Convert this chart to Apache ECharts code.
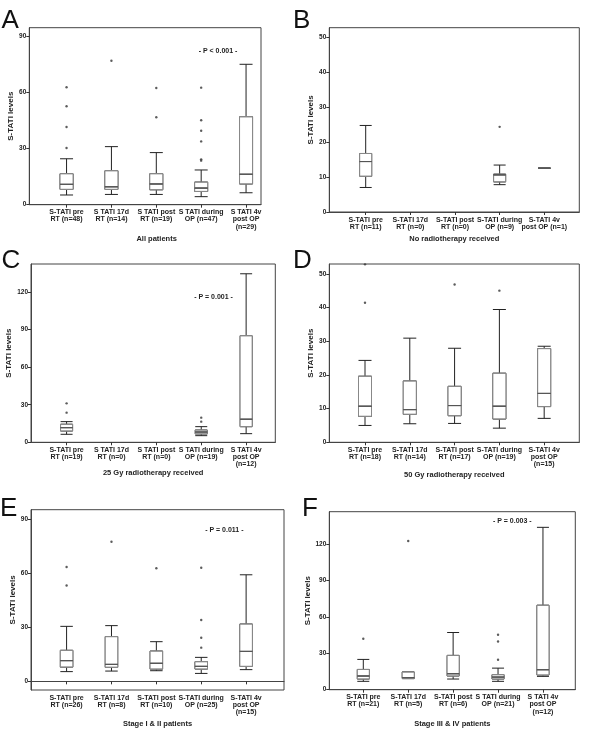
<!DOCTYPE html>
<html><head><meta charset="utf-8">
<script src="https://cdn.jsdelivr.net/npm/echarts@6/dist/echarts.min.js"></script>
<style>html,body{margin:0;padding:0;background:#fff}#c{width:600px;height:746px}</style>
</head><body><div id="c"></div>
<script>
// ---------- DATA ----------
const labelsA = ['S-TATI pre\nRT (n=48)', 'S TATI 17d\nRT (n=14)', 'S TATI post\nRT (n=19)', 'S TATI during\nOP (n=47)', 'S TATI 4v\npost OP\n(n=29)'];
const boxA = [[5.2, 8.2, 10.9, 16.6, 24.6], [5.5, 8.2, 9.6, 18.2, 31.1], [5.5, 8.0, 11.1, 16.6, 27.9], [4.3, 7.1, 8.9, 12.1, 18.6], [6.4, 11.1, 16.3, 47.1, 75.2]];
const outA = [[1, 62.9], [1, 52.7], [1, 41.6], [1, 30.4], [2, 77.1], [3, 62.5], [3, 46.8], [4, 62.7], [4, 45.2], [4, 39.6], [4, 33.9], [4, 24.3], [4, 23.6]];
const ticksA = [0, 30, 60, 90];

const labelsB = ['S-TATI pre\nRT (n=11)', 'S-TATI 17d\nRT (n=0)', 'S-TATI post\nRT (n=0)', 'S-TATI during\nOP (n=9)', 'S-TATI 4v\npost OP (n=1)'];
const boxB = [[7.0, 10.2, 14.4, 16.7, 24.7], null, null, [7.8, 8.6, 10.6, 10.8, 13.4], [12.5, 12.5, 12.5, 12.5, 12.5]];
const outB = [[4, 24.3]];
const ticksB = [0, 10, 20, 30, 40, 50];

const labelsC = ['S-TATI pre\nRT (n=19)', 'S TATI 17d\nRT (n=0)', 'S TATI post\nRT (n=0)', 'S TATI during\nOP (n=19)', 'S TATI 4v\npost OP\n(n=12)'];
const boxC = [[6.4, 9.0, 11.7, 14.4, 16.5], null, null, [5.3, 6.7, 8.2, 9.8, 12.5], [6.9, 12.5, 18.4, 85.1, 134.6]];
const outC = [[1, 31.1], [1, 23.7], [4, 16.5], [4, 19.7]];
const ticksC = [0, 30, 60, 90, 120];

const labelsD = ['S-TATI pre\nRT (n=18)', 'S-TATI 17d\nRT (n=14)', 'S-TATI post\nRT (n=17)', 'S-TATI during\nOP (n=19)', 'S-TATI 4v\npost OP\n(n=15)'];
const boxD = [[5.0, 7.7, 10.7, 19.6, 24.3], [5.5, 8.3, 9.7, 18.2, 30.9], [5.6, 7.9, 10.9, 16.6, 27.9], [4.2, 6.9, 10.7, 20.5, 39.4], [7.1, 10.6, 14.5, 27.8, 28.5]];
const outD = [[1, 41.4], [1, 52.8], [3, 46.8], [4, 45.0]];
const ticksD = [0, 10, 20, 30, 40, 50];

const labelsE = ['S-TATI pre\nRT (n=26)', 'S-TATI 17d\nRT (n=8)', 'S-TATI post\nRT (n=10)', 'S-TATI during\nOP (n=25)', 'S-TATI 4v\npost OP\n(n=15)'];
const boxE = [[5.4, 7.9, 11.5, 17.2, 30.5], [5.7, 7.8, 9.4, 24.8, 30.9], [5.9, 6.8, 10.0, 16.8, 22.0], [4.4, 6.8, 8.3, 10.9, 13.3], [6.5, 8.3, 16.6, 31.8, 59.1]];
const outE = [[1, 63.4], [1, 53.2], [2, 77.4], [3, 62.7], [4, 63.0], [4, 34.0], [4, 24.2], [4, 18.7]];
const ticksE = [0, 30, 60, 90];

const labelsF = ['S-TATI pre\nRT (n=21)', 'S-TATI 17d\nRT (n=5)', 'S-TATI post\nRT (n=6)', 'S TATI during\nOP (n=21)', 'S TATI 4v\npost OP\n(n=12)'];
const boxF = [[6.9, 8.8, 11.3, 16.7, 25.0], [9.1, 9.3, 10.0, 14.6, 14.6], [8.8, 11.3, 13.2, 28.3, 47.2], [6.9, 8.8, 10.4, 12.4, 17.8], [11.0, 12.1, 16.5, 69.7, 134.0]];
const outF = [[1, 42.0], [2, 122.7], [4, 45.3], [4, 39.8], [4, 24.7]];
const ticksF = [0, 30, 60, 90, 120];

const yTitle = 'S-TATI levels';
const xTitles = ['All patients', 'No radiotherapy received', '25 Gy radiotherapy received', '50 Gy radiotherapy received', 'Stage I & II patients', 'Stage III & IV patients'];
const panelLetters = ['A', 'B', 'C', 'D', 'E', 'F'];
const pTexts = ['- P < 0.001 -', null, '- P = 0.001 -', null, '- P = 0.011 -', '- P = 0.003 -'];

// ---------- LAYOUT ----------
const FONT = 'Liberation Sans, Arial, sans-serif';
const layout = [
  {left: 29.3, top: 27.7, width: 231.7, height: 177, xmin: 0.17, xmax: 5.333, ymin: 0, ymax: 94.8, bw: 13, yGap: 10, xGap: 30, xPad: 23, letter: [1.5, 21], p: [218, 50.7]},
  {left: 329.3, top: 27.7, width: 250, height: 184.3, xmin: 0.185, xmax: 5.784, ymin: 0, ymax: 52.6, bw: 12, yGap: 12, xGap: 23, xPad: 0, letter: [293, 21], p: null},
  {left: 31, top: 264, width: 244.3, height: 178.3, xmin: 0.207, xmax: 5.65, ymin: 0, ymax: 142.4, bw: 12, yGap: 12.5, xGap: 19.5, xPad: 0, letter: [1.5, 261], p: [213.5, 296.7]},
  {left: 329.3, top: 264, width: 250, height: 178.3, xmin: 0.203, xmax: 5.784, ymin: 0, ymax: 52.9, bw: 13, yGap: 12, xGap: 28.5, xPad: 0, letter: [293, 261], p: null},
  {left: 31, top: 509.7, width: 253, height: 180.3, xmin: 0.207, xmax: 5.844, ymin: -4.8, ymax: 95.2, bw: 12.5, yGap: 11.5, xGap: 30, xPad: 0, letter: [0, 508.5], p: [224.3, 530.3]},
  {left: 329.3, top: 511.7, width: 246, height: 178, xmin: 0.243, xmax: 5.72, ymin: 0, ymax: 146.9, bw: 12, yGap: 15, xGap: 30, xPad: 0, letter: [302, 509], p: [512.3, 520.7]}
];
const allLabels = [labelsA, labelsB, labelsC, labelsD, labelsE, labelsF];
const allBoxes = [boxA, boxB, boxC, boxD, boxE, boxF];
const allOut = [outA, outB, outC, outD, outE, outF];
const allTicks = [ticksA, ticksB, ticksC, ticksD, ticksE, ticksF];

const grid = [], xAxis = [], yAxis = [], series = [], graphic = [];
const catVals = [1, 2, 3, 4, 5];
const oddVals = [1, 3, 5], evenVals = [2, 4];
const catLabelStyle = {fontFamily: FONT, fontWeight: 'bold', fontSize: 7, lineHeight: 7.2, color: '#222', margin: 4, hideOverlap: false, showMinLabel: true, showMaxLabel: true};
layout.forEach((L, i) => {
  grid.push({left: L.left, top: L.top, width: L.width, height: L.height, show: true, borderColor: '#444', borderWidth: 1, backgroundColor: 'transparent', containLabel: false});
  const labs = allLabels[i];
  const fmt = v => labs[Math.round(v) - 1] || '';
  // main x axis: line, ticks, odd labels, title
  xAxis.push({
    type: 'value', gridIndex: i, min: L.xmin, max: L.xmax,
    axisLine: {show: true, lineStyle: {color: '#444', width: 1}},
    axisTick: {show: true, length: 3, customValues: catVals, lineStyle: {color: '#333'}},
    splitLine: {show: false},
    axisLabel: Object.assign({show: true, customValues: oddVals, formatter: fmt}, catLabelStyle),
    name: xTitles[i], nameLocation: 'middle', nameGap: L.xGap,
    nameTextStyle: {fontFamily: FONT, fontWeight: 'bold', fontSize: 7.5, color: '#222', padding: [0, 0, 0, L.xPad]}
  });
  // companion x axis: even labels only
  xAxis.push({
    type: 'value', gridIndex: i, min: L.xmin, max: L.xmax, position: 'bottom',
    axisLine: {show: false}, axisTick: {show: false}, splitLine: {show: false},
    axisLabel: Object.assign({show: true, customValues: evenVals, formatter: fmt}, catLabelStyle)
  });
  // third hidden x axis (for median overlay)
  xAxis.push({
    type: 'value', gridIndex: i, min: L.xmin, max: L.xmax, show: false,
    axisLine: {show: false}, axisTick: {show: false}, splitLine: {show: false}, axisLabel: {show: false}
  });
  yAxis.push({
    type: 'value', gridIndex: i, min: L.ymin, max: L.ymax,
    axisLine: {show: true, lineStyle: {color: '#444', width: 1}},
    axisTick: {show: true, length: 3, customValues: allTicks[i], lineStyle: {color: '#333'}},
    splitLine: {show: false},
    axisLabel: {show: true, customValues: allTicks[i], fontFamily: FONT, fontWeight: 'bold', fontSize: 6.5, color: '#222', margin: 3, showMinLabel: true, showMaxLabel: true},
    name: yTitle, nameLocation: 'middle', nameGap: L.yGap, nameRotate: 90,
    nameTextStyle: {fontFamily: FONT, fontWeight: 'bold', fontSize: 8, color: '#222'}
  });
  const full = [], boxOnly = [], medOnly = [];
  allBoxes[i].forEach((b, k) => {
    if (!b) return;
    const x = k + 1;
    full.push([x].concat(b));
    boxOnly.push([x, b[1], b[1], b[2], b[3], b[3]]);
    medOnly.push([x, b[2], b[2], b[2], b[2], b[2]]);
  });
  const common = {type: 'boxplot', yAxisIndex: i, boxWidth: [L.bw, L.bw], emphasis: {disabled: true}, silent: true, animation: false};
  // whiskers (dark)
  series.push(Object.assign({}, common, {xAxisIndex: 3 * i, data: full, itemStyle: {color: '#fff', borderColor: '#222', borderWidth: 1}}));
  // box outline (grey)
  series.push(Object.assign({}, common, {xAxisIndex: 3 * i + 1, data: boxOnly, itemStyle: {color: '#fff', borderColor: '#888', borderWidth: 1}}));
  // median (dark)
  series.push(Object.assign({}, common, {xAxisIndex: 3 * i + 2, data: medOnly, itemStyle: {color: '#fff', borderColor: '#555', borderWidth: 0.6}}));
  series.push({
    type: 'scatter', xAxisIndex: 3 * i, yAxisIndex: i, data: allOut[i], symbol: 'circle', symbolSize: 2.4,
    itemStyle: {color: '#333'}, silent: true, animation: false
  });
  graphic.push({type: 'text', x: L.letter[0], y: L.letter[1], style: {text: panelLetters[i], font: '26px ' + FONT, fill: '#111', align: 'left', verticalAlign: 'middle'}});
  if (pTexts[i]) {
    graphic.push({type: 'text', x: L.p[0], y: L.p[1], style: {text: pTexts[i], font: 'bold 7px ' + FONT, fill: '#222', align: 'center', verticalAlign: 'middle'}});
  }
});

const chart = echarts.init(document.getElementById('c'), null, {renderer: 'canvas'});
chart.setOption({animation: false, backgroundColor: '#fff', grid, xAxis, yAxis, series, graphic, tooltip: {show: false}});
</script>
</body></html>
